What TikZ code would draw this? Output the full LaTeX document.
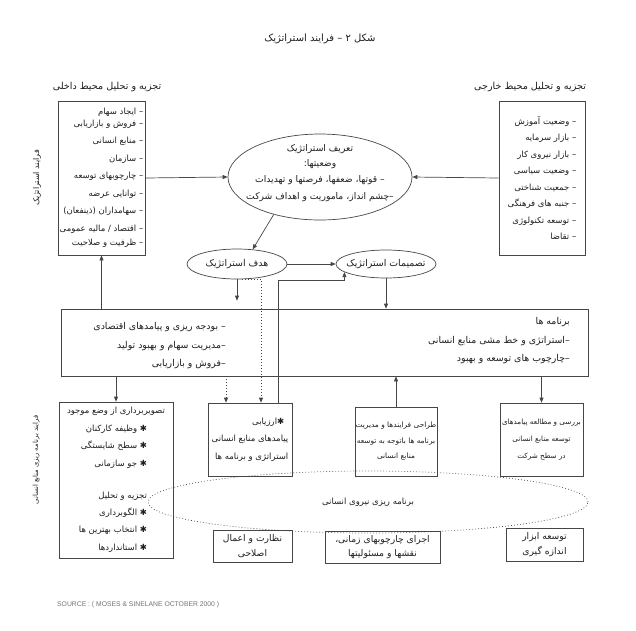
\documentclass[tikz,border=0pt]{standalone}
\usepackage{fontspec}
\usetikzlibrary{arrows.meta,shapes.geometric}
\newfontfamily\farsi[Script=Arabic]{DejaVu Sans}
\newfontfamily\srcfont{Liberation Sans}
\TeXXeTstate=1
\definecolor{lnG}{RGB}{70,70,70}
\definecolor{txG}{RGB}{30,30,30}
\newcommand{\fa}[1]{{\farsi\beginR #1\endR}}
\newcommand{\FS}{\fontsize{8.5}{17.5}\selectfont}
\newcommand{\FSe}{\fontsize{9.2}{15.5}\selectfont}
\newcommand{\FSp}{\fontsize{9.4}{18.5}\selectfont}
\newcommand{\FSb}{\fontsize{9.2}{14.5}\selectfont}
\newcommand{\IND}{\kern18pt}

\begin{document}
\begin{tikzpicture}[x=1pt, y=-1pt,
    box/.style={draw=lnG, line width=0.7pt, inner sep=0pt, font=\FS, text=txG},
    ell/.style={ellipse, draw=lnG, line width=0.7pt, inner sep=0pt, font=\FS, text=txG},
    txt/.style={inner sep=0pt, font=\FS, text=txG},
    side/.style={txt, rotate=90},
    arr/.style={draw=lnG, line width=0.7pt, -{Triangle[length=5pt,width=4pt]}},
    dotarr/.style={arr, dash pattern=on 0.8pt off 2.2pt},
  ]
  \useasboundingbox (0,0) rectangle (636,630);

  %% ---------------- title and side labels ----------------
  \node[txt, font=\fontsize{10}{12}\selectfont] (title) at (320,39) {\fa{شکل ۲ – فرایند استراتژیک}};
  \node[txt, font=\fontsize{9.6}{12}\selectfont] (inlab) at (107,87) {\fa{تجزیه و تحلیل محیط داخلی}};
  \node[txt, font=\fontsize{9.6}{12}\selectfont] (exlab) at (530,87) {\fa{تجزیه و تحلیل محیط خارجی}};
  \node[side, font=\fontsize{8}{10}\selectfont] (stratlab) at (37,178) {\fa{فرایند استراتژیک}};
  \node[side, font=\fontsize{6.8}{10}\selectfont] (hrplab) at (36,460) {\fa{فرایند برنامه ریزی منابع انسانی}};

  %% ---------------- environment boxes ----------------
  \node[box, minimum width=87pt, minimum height=154pt, align=right] (inbox) at (101.5,178) {%
    \fa{– ایجاد سهام}\\[-6pt]
    \fa{– فروش و بازاریابی}\\
    \fa{– منابع انسانی}\\
    \fa{– سازمان}\\
    \fa{– چارچوبهای توسعه}\\
    \fa{– توانایی عرضه}\\
    \fa{– سهامداران (ذینفعان)}\\
    \fa{– اقتصاد / مالیه عمومی}\\[-3pt]
    \fa{– ظرفیت و صلاحیت}};
  \node[box, minimum width=86pt, minimum height=154pt, align=right] (exbox) at (542,178) {%
    \fa{– وضعیت آموزش}\\[-1pt]
    \fa{– بازار سرمایه}\\[-1pt]
    \fa{– بازار نیروی کار}\\[-1pt]
    \fa{– وضعیت سیاسی}\\[-1pt]
    \fa{– جمعیت شناختی}\\[-1pt]
    \fa{– جنبه های فرهنگی}\\[-1pt]
    \fa{– توسعه تکنولوژی}\\[-1pt]
    \fa{– تقاضا}};

  %% ---------------- strategy ellipses ----------------
  \node[ell, minimum width=184pt, minimum height=86pt] (defn) at (320,177) {};
  \node[txt, font=\FSe, align=center] (defntxt) at ([yshift=4pt]defn.center) {%
    \fa{تعریف استراتژیک}\\
    \fa{وضعیتها:}\\
    \fa{– قوتها، ضعفها، فرصتها و تهدیدات}\\[2pt]
    \fa{–چشم انداز، ماموریت و اهداف شرکت}};
  \node[ell, font=\fontsize{9.4}{11}\selectfont, inner xsep=-16pt, minimum width=100pt, minimum height=30pt] (goal) at (237,264) {\fa{هدف استراتژیک}};
  \node[ell, font=\fontsize{9.4}{11}\selectfont, inner xsep=-16pt, minimum width=100pt, minimum height=28pt] (dec) at (386,264) {\fa{تصمیمات استراتژیک}};

  %% ---------------- programme box ----------------
  \node[box, minimum width=527pt, minimum height=67pt] (prog) at (324.5,342.5) {};
  \node[txt, font=\FSp, align=right, anchor=east] (progL) at (226,346) {%
    \fa{– بودجه ریزی و پیامدهای اقتصادی}\\
    \fa{–مدیریت سهام و بهبود تولید}\\
    \fa{–فروش و بازاریابی}};
  \node[txt, font=\FSp, align=right, anchor=east] (progR) at (570,341) {%
    \fa{برنامه ها}\\
    \fa{–استراتژی و خط مشی منابع انسانی}\\
    \fa{–چارچوب های توسعه و بهبود}};

  %% ---------------- HR planning boxes ----------------
  \node[box, minimum width=114pt, minimum height=156pt, align=right] (lowleft) at (116,480) {%
    \fa{تصویربرداری از وضع موجود}\\
    \fa{✱ وظیفه کارکنان}\IND\\
    \fa{✱ سطح شایستگی}\IND\\
    \fa{✱ جو سازمانی}\IND\\[15pt]
    \fa{تجزیه و تحلیل}\IND\\[-1pt]
    \fa{✱ الگوبرداری}\IND\\
    \fa{✱ انتخاب بهترین ها}\IND\\
    \fa{✱ استانداردها}\IND};
  \node[box, minimum width=84pt, minimum height=73pt, align=right] (eval) at (250,439.5) {%
    \fa{✱ارزیابی}\kern4pt\\
    \fa{پیامدهای منابع انسانی}\\
    \fa{استراتژی و برنامه ها}};
  \node[box, font=\fontsize{7.4}{15.5}\selectfont, minimum width=82pt, minimum height=69pt, align=center] (mid) at (396,441.5) {%
    \fa{طراحی فرایندها و مدیریت}\\
    \fa{برنامه ها باتوجه به توسعه}\\
    \fa{منابع انسانی}};
  \node[box, font=\fontsize{7.2}{17}\selectfont, minimum width=83pt, minimum height=73pt, align=center] (rbox) at (541.5,439.5) {%
    \fa{بررسی و مطالعه پیامدهای}\\
    \fa{توسعه منابع انسانی}\\
    \fa{در سطح شرکت}};

  \node[ell, dash pattern=on 0.8pt off 2.2pt, minimum width=440pt, minimum height=62pt] (hrm) at (368,502) {\fa{برنامه ریزی نیروی انسانی}};

  \node[box, font=\FSb, minimum width=79pt, minimum height=32pt, align=center] (watch) at (252.5,546) {%
    \fa{نظارت و اعمال}\\ \fa{اصلاحی}};
  \node[box, font=\FSb, minimum width=115pt, minimum height=32pt, align=center] (exec) at (382.5,547) {%
    \fa{اجرای چارچوبهای زمانی،}\\ \fa{نقشها و مسئولیتها}};
  \node[box, font=\FSb, minimum width=77pt, minimum height=33pt, align=center] (tools) at (544.5,544.5) {%
    \fa{توسعه ابزار}\\ \fa{اندازه گیری}};

  \node[anchor=west, inner sep=0pt, font=\srcfont\fontsize{6.8}{8}\selectfont, text=black!55] (src) at (57,605)
    {SOURCE : ( MOSES \& SINELANE OCTOBER 2000 )};

  %% ---------------- connectors ----------------
  \coordinate (dotL) at ([xshift=-24pt]eval.north);
  \coordinate (dotR) at ([xshift=11pt]eval.north);
  \coordinate (riseR) at ([xshift=-14pt]eval.north east);
  \draw[arr] (inbox.east) -- (defn.west);
  \draw[arr] (exbox.west) -- (defn.east);
  \draw[arr] (defn.219) -- (goal.43);
  \draw[arr] (goal.east) -- (dec.west);
  \draw[arr, shorten >=8pt] (goal.south) -- (goal.south |- prog.north);
  \draw[arr] (dec.south) -- (dec.south |- prog.north);
  \draw[arr] (inbox.south |- prog.north) -- (inbox.south);
  \draw[arr] (lowleft.north |- prog.south) -- (lowleft.north);
  \draw[arr] (rbox.north |- prog.south) -- (rbox.north);
  \draw[arr] (mid.north) -- (mid.north |- prog.south);
  \draw[dotarr] ([xshift=5pt]goal.south) -| (dotR);
  \draw[dotarr] (dotL |- prog.south) -- (dotL);
  \draw[arr] (riseR) |- ([yshift=-8pt]dec.191) -- (dec.191);

\end{tikzpicture}
\end{document}
